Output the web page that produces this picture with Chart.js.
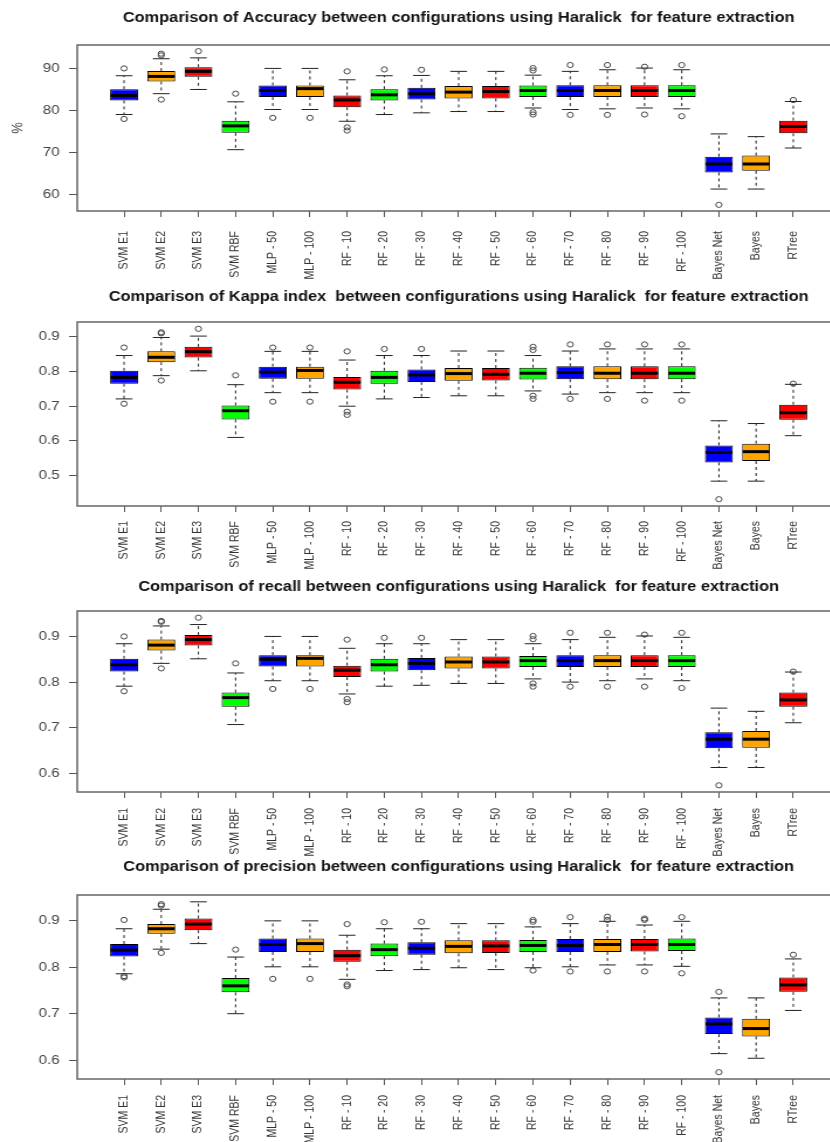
<!DOCTYPE html>
<html>
<head>
<meta charset="utf-8">
<script src="https://cdn.jsdelivr.net/npm/chart.js@4.4.1/dist/chart.umd.min.js"></script>
<style>
  html, body { margin: 0; padding: 0; background: #fff; width: 830px; height: 1142px; overflow: hidden; }
  canvas { position: absolute; left: 0; }
</style>
</head>
<body>
<canvas id="accuracy"></canvas>
<canvas id="kappa"></canvas>
<canvas id="recall"></canvas>
<canvas id="precision"></canvas>
<script>
// Classifier configurations (one box per configuration)
const configurations = ['SVM E1', 'SVM E2', 'SVM E3', 'SVM RBF', 'MLP - 50', 'MLP - 100',
  'RF - 10', 'RF - 20', 'RF - 30', 'RF - 40', 'RF - 50', 'RF - 60', 'RF - 70', 'RF - 80',
  'RF - 90', 'RF - 100', 'Bayes Net', 'Bayes', 'RTree'];

// Accuracy (%): lower whisker, first quartile, median, third quartile, upper whisker, outliers
const accuracyLow    = [79.05, 84.0, 85.0, 70.7, 80.24, 80.24, 77.45, 79.05, 79.45, 79.76, 79.76, 80.6, 80.24, 80.4, 80.6, 80.4, 61.35, 61.35, 71.1];
const accuracyQ1     = [82.4, 86.9, 88.0, 74.7, 83.2, 83.2, 80.8, 82.4, 82.6, 82.86, 82.86, 83.2, 83.2, 83.2, 83.2, 83.2, 65.3, 65.7, 74.6];
const accuracyMedian = [83.57, 88.1, 89.3, 76.35, 84.76, 85.2, 82.5, 83.73, 83.97, 84.37, 84.5, 84.76, 84.76, 84.76, 84.76, 84.76, 67.3, 67.3, 76.2];
const accuracyQ3     = [85.07, 89.36, 90.3, 77.6, 85.95, 85.95, 83.57, 85.07, 85.4, 85.8, 85.8, 85.95, 86.0, 86.0, 86.0, 86.0, 69.05, 69.3, 77.6];
const accuracyHigh   = [88.26, 92.3, 92.5, 82.07, 90.0, 90.0, 87.3, 88.26, 88.33, 89.3, 89.3, 88.4, 89.3, 89.68, 90.08, 89.68, 74.45, 73.8, 82.14];
const accuracyOutliers = [[90.0, 78.0], [93.5, 93.1, 82.6], [94.1], [84.0], [78.26], [78.26],
  [89.3, 76.0, 75.24], [89.76], [89.68], [], [], [90.08, 89.5, 79.6, 79.05], [90.8, 78.97],
  [90.8, 78.97], [90.4, 79.05], [90.8, 78.65], [57.6], [], [82.5]];
const accuracyTicks = [60, 70, 80, 90];

// Kappa index
const kappaLow    = [0.721, 0.788, 0.802, 0.610, 0.739, 0.739, 0.700, 0.721, 0.725, 0.730, 0.730, 0.744, 0.735, 0.739, 0.739, 0.739, 0.484, 0.484, 0.615];
const kappaQ1     = [0.765, 0.827, 0.840, 0.662, 0.779, 0.779, 0.748, 0.765, 0.770, 0.773, 0.774, 0.777, 0.778, 0.778, 0.778, 0.778, 0.538, 0.542, 0.661];
const kappaMedian = [0.783, 0.841, 0.857, 0.687, 0.798, 0.803, 0.769, 0.783, 0.790, 0.794, 0.792, 0.795, 0.797, 0.795, 0.795, 0.795, 0.567, 0.569, 0.681];
const kappaQ3     = [0.802, 0.858, 0.871, 0.702, 0.814, 0.814, 0.784, 0.802, 0.806, 0.810, 0.810, 0.811, 0.815, 0.815, 0.815, 0.815, 0.587, 0.592, 0.704];
const kappaHigh   = [0.846, 0.898, 0.902, 0.762, 0.858, 0.858, 0.833, 0.846, 0.846, 0.859, 0.859, 0.846, 0.859, 0.865, 0.865, 0.865, 0.658, 0.650, 0.763];
const kappaOutliers = [[0.869, 0.707], [0.913, 0.910, 0.774], [0.923], [0.789], [0.869, 0.713], [0.869, 0.713],
  [0.858, 0.684, 0.675], [0.865], [0.865], [], [], [0.871, 0.862, 0.730, 0.721], [0.878, 0.721],
  [0.878, 0.721], [0.878, 0.716], [0.878, 0.716], [0.432], [], [0.765]];
const kappaTicks = [0.5, 0.6, 0.7, 0.8, 0.9];

// Recall
const recallLow    = [0.791, 0.841, 0.851, 0.707, 0.803, 0.803, 0.774, 0.791, 0.793, 0.797, 0.797, 0.807, 0.800, 0.803, 0.807, 0.803, 0.613, 0.613, 0.711];
const recallQ1     = [0.823, 0.869, 0.880, 0.746, 0.834, 0.834, 0.811, 0.823, 0.826, 0.830, 0.830, 0.833, 0.833, 0.833, 0.833, 0.833, 0.655, 0.656, 0.746];
const recallMedian = [0.838, 0.881, 0.893, 0.766, 0.850, 0.852, 0.826, 0.838, 0.841, 0.844, 0.844, 0.847, 0.847, 0.847, 0.847, 0.847, 0.675, 0.675, 0.761];
const recallQ3     = [0.851, 0.893, 0.903, 0.777, 0.859, 0.859, 0.836, 0.851, 0.853, 0.856, 0.856, 0.857, 0.859, 0.859, 0.859, 0.859, 0.690, 0.693, 0.777];
const recallHigh   = [0.884, 0.923, 0.926, 0.820, 0.900, 0.900, 0.874, 0.884, 0.884, 0.893, 0.893, 0.884, 0.893, 0.898, 0.901, 0.898, 0.743, 0.736, 0.822];
const recallOutliers = [[0.900, 0.780], [0.934, 0.932, 0.830], [0.941], [0.841], [0.785], [0.785],
  [0.893, 0.763, 0.756], [0.897], [0.897], [], [], [0.901, 0.894, 0.797, 0.790], [0.908, 0.790],
  [0.908, 0.790], [0.904, 0.790], [0.908, 0.787], [0.574], [], [0.823]];
const recallTicks = [0.6, 0.7, 0.8, 0.9];

// Precision
const precisionLow    = [0.786, 0.839, 0.851, 0.700, 0.801, 0.801, 0.774, 0.793, 0.795, 0.799, 0.795, 0.799, 0.801, 0.805, 0.805, 0.802, 0.614, 0.604, 0.707];
const precisionQ1     = [0.823, 0.872, 0.880, 0.746, 0.833, 0.833, 0.812, 0.824, 0.827, 0.830, 0.831, 0.833, 0.833, 0.833, 0.834, 0.835, 0.656, 0.651, 0.747];
const precisionMedian = [0.837, 0.883, 0.893, 0.760, 0.849, 0.851, 0.825, 0.838, 0.841, 0.845, 0.846, 0.847, 0.847, 0.849, 0.849, 0.849, 0.678, 0.668, 0.762];
const precisionQ3     = [0.850, 0.893, 0.905, 0.777, 0.862, 0.862, 0.838, 0.851, 0.854, 0.858, 0.858, 0.859, 0.861, 0.861, 0.861, 0.862, 0.692, 0.689, 0.778];
const precisionHigh   = [0.883, 0.925, 0.941, 0.822, 0.900, 0.900, 0.869, 0.883, 0.883, 0.894, 0.894, 0.887, 0.894, 0.899, 0.891, 0.899, 0.734, 0.734, 0.818];
const precisionOutliers = [[0.902, 0.781, 0.778], [0.936, 0.933, 0.831], [], [0.838], [0.775], [0.775],
  [0.893, 0.763, 0.759], [0.897], [0.898], [], [], [0.902, 0.898, 0.793], [0.908, 0.791],
  [0.909, 0.902, 0.791], [0.905, 0.902, 0.791], [0.908, 0.787], [0.747, 0.574], [], [0.827]];
const precisionTicks = [0.6, 0.7, 0.8, 0.9];

// Box fill colours, cycling through the four groups
const boxColors = ['#0000ff', '#ffa500', '#ff0000', '#00ff00'];

Chart.defaults.font.family = '"Liberation Sans", Arial, Helvetica, sans-serif';

// The drawing is rendered narrower and widened by CSS, like the stretched original figure
const SCREEN_WIDTH = 860;
const STRETCH = 1.17;
const CHART_WIDTH = Math.round(SCREEN_WIDTH / STRETCH);
const PLOT_LEFT = 66;       // left edge of the plot frame (chart pixels)
const PAD_LEFT = 8;
const PAD_RIGHT = 17;

const panels = [
  { id: 'accuracy', title: 'Comparison of Accuracy between configurations using Haralick  for feature extraction',
    low: accuracyLow, q1: accuracyQ1, median: accuracyMedian, q3: accuracyQ3, high: accuracyHigh,
    outliers: accuracyOutliers, ticks: accuracyTicks, yTitle: '%', digits: 0, labelPad: 14,
    top: 0, height: 285, plotTop: 45, plotBottom: 211, titleY: 18 },
  { id: 'kappa', title: 'Comparison of Kappa index  between configurations using Haralick  for feature extraction',
    low: kappaLow, q1: kappaQ1, median: kappaMedian, q3: kappaQ3, high: kappaHigh,
    outliers: kappaOutliers, ticks: kappaTicks, yTitle: '', digits: 1, labelPad: 9,
    top: 285, height: 290, plotTop: 322, plotBottom: 506, titleY: 297 },
  { id: 'recall', title: 'Comparison of recall between configurations using Haralick  for feature extraction',
    low: recallLow, q1: recallQ1, median: recallMedian, q3: recallQ3, high: recallHigh,
    outliers: recallOutliers, ticks: recallTicks, yTitle: '', digits: 1, labelPad: 10,
    top: 575, height: 285, plotTop: 611, plotBottom: 792, titleY: 587 },
  { id: 'precision', title: 'Comparison of precision between configurations using Haralick  for feature extraction',
    low: precisionLow, q1: precisionQ1, median: precisionMedian, q3: precisionQ3, high: precisionHigh,
    outliers: precisionOutliers, ticks: precisionTicks, yTitle: '', digits: 1, labelPad: 10,
    top: 860, height: 282, plotTop: 895, plotBottom: 1079, titleY: 867 }
];

// Whiskers, staples, medians, plot frame and panel title
const boxDecor = {
  id: 'boxDecor',
  afterDatasetsDraw(chart, args, opts) {
    const p = opts.panel;
    const ys = chart.scales.y;
    const ctx = chart.ctx;
    const bars = chart.getDatasetMeta(0).data;
    ctx.save();
    bars.forEach((bar, i) => {
      const cx = bar.x;
      const half = bar.width / 2;
      const yLow = ys.getPixelForValue(p.low[i]);
      const yQ1 = ys.getPixelForValue(p.q1[i]);
      const yMed = ys.getPixelForValue(p.median[i]);
      const yQ3 = ys.getPixelForValue(p.q3[i]);
      const yHigh = ys.getPixelForValue(p.high[i]);
      // dashed whiskers
      ctx.strokeStyle = '#222';
      ctx.lineWidth = 1;
      ctx.setLineDash([3, 3]);
      ctx.beginPath();
      ctx.moveTo(cx, yQ3); ctx.lineTo(cx, yHigh);
      ctx.moveTo(cx, yQ1); ctx.lineTo(cx, yLow);
      ctx.stroke();
      // staples
      ctx.setLineDash([]);
      const sw = half * 0.6;
      ctx.beginPath();
      ctx.moveTo(cx - sw, yHigh); ctx.lineTo(cx + sw, yHigh);
      ctx.moveTo(cx - sw, yLow); ctx.lineTo(cx + sw, yLow);
      ctx.stroke();
      // median
      ctx.strokeStyle = '#000';
      ctx.lineWidth = 3;
      ctx.beginPath();
      ctx.moveTo(cx - half + 0.5, yMed); ctx.lineTo(cx + half - 0.5, yMed);
      ctx.stroke();
    });
    ctx.restore();
  },
  afterDraw(chart, args, opts) {
    const p = opts.panel;
    const a = chart.chartArea;
    const ctx = chart.ctx;
    ctx.save();
    ctx.strokeStyle = '#666';
    ctx.lineWidth = 1.5;
    ctx.strokeRect(a.left, a.top, a.right - a.left, a.bottom - a.top);
    ctx.fillStyle = '#111';
    ctx.font = 'bold 14px "Liberation Sans", Arial, sans-serif';
    ctx.textAlign = 'center';
    ctx.textBaseline = 'middle';
    ctx.fillText(p.title, (a.left + a.right) / 2, p.titleY - p.top);
    ctx.restore();
  }
};

function yLimits(p) {
  const all = [...p.low, ...p.high, ...p.outliers.flat()];
  const lo = Math.min(...all), hi = Math.max(...all);
  const ext = (hi - lo) * 0.04;
  return [lo - ext, hi + ext];
}

panels.forEach(p => {
  const canvas = document.getElementById(p.id);
  canvas.width = CHART_WIDTH;
  canvas.height = p.height;
  canvas.style.top = p.top + 'px';
  canvas.style.width = SCREEN_WIDTH + 'px';
  canvas.style.height = p.height + 'px';

  const [yMin, yMax] = yLimits(p);
  const n = configurations.length;
  const xExt = n * 0.04;

  new Chart(canvas, {
    type: 'bar',
    data: {
      datasets: [
        {
          type: 'bar',
          data: p.q1.map((v, i) => ({ x: i + 1, y: [v, p.q3[i]] })),
          backgroundColor: configurations.map((_, i) => boxColors[i % boxColors.length]),
          borderColor: '#000',
          borderWidth: 1,
          borderSkipped: false,
          barPercentage: 0.75,
          categoryPercentage: 1
        },
        {
          type: 'scatter',
          data: p.outliers.flatMap((vals, i) => vals.map(v => ({ x: i + 1, y: v }))),
          pointStyle: 'circle',
          pointRadius: 2.6,
          pointBorderWidth: 1,
          pointBorderColor: '#444',
          pointBackgroundColor: 'rgba(0,0,0,0)',
          showLine: false
        }
      ]
    },
    options: {
      responsive: false,
      animation: false,
      devicePixelRatio: 1,
      events: [],
      layout: { padding: { top: p.plotTop - p.top, left: PAD_LEFT, right: PAD_RIGHT, bottom: 0 } },
      plugins: {
        legend: { display: false },
        title: { display: false },
        tooltip: { enabled: false },
        boxDecor: { panel: p }
      },
      scales: {
        x: {
          type: 'linear',
          min: 0.5 - xExt,
          max: n + 0.5 + xExt,
          offset: false,
          afterBuildTicks: s => { s.ticks = configurations.map((_, i) => ({ value: i + 1 })); },
          afterFit: s => { s.height = p.top + p.height - p.plotBottom; },
          ticks: {
            autoSkip: false,
            minRotation: 90,
            maxRotation: 90,
            padding: p.labelPad,
            color: '#333',
            font: { size: 10.5 },
            callback: v => configurations[v - 1]
          },
          grid: { display: true, drawOnChartArea: false, drawTicks: true, tickLength: 6, color: '#555', offset: false },
          border: { display: false }
        },
        y: {
          type: 'linear',
          min: yMin,
          max: yMax,
          afterBuildTicks: s => { s.ticks = p.ticks.map(v => ({ value: v })); },
          afterFit: s => { s.width = PLOT_LEFT - PAD_LEFT; },
          ticks: {
            padding: 8,
            color: '#444',
            font: { size: 13 },
            callback: v => v.toFixed(p.digits)
          },
          title: {
            display: p.yTitle !== '',
            text: p.yTitle,
            color: '#444',
            font: { size: 13 },
            padding: 0
          },
          grid: { display: true, drawOnChartArea: false, drawTicks: true, tickLength: 7, color: '#555' },
          border: { display: false }
        }
      }
    },
    plugins: [boxDecor]
  });
});
</script>
</body>
</html>
